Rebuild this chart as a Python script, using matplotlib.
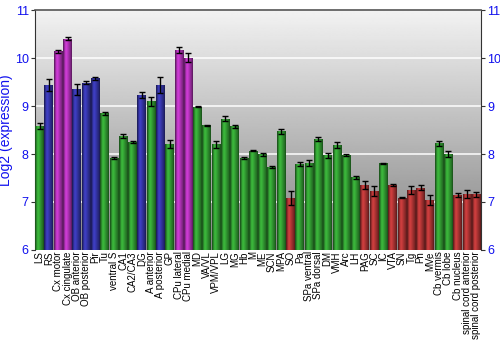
import numpy as np
import matplotlib
matplotlib.use("Agg")
import matplotlib.pyplot as plt
from matplotlib.colors import to_rgb

plt.rcParams['font.family'] = ['Liberation Sans', 'DejaVu Sans']

regions = ["LS", "RS", "Cx motor", "Cx cingulate", "OB anterior", "OB posterior",
           "Pir", "Tu", "ventral S", "CA1", "CA2/CA3", "DG", "A anterior",
           "A posterior", "GP", "CPu lateral", "CPu medial", "MD", "VA/VL",
           "VPM/VPL", "LG", "MG", "Hb", "M", "ME", "SCN", "MPA", "SO", "Pa",
           "SPa ventral", "SPa dorsal", "DM", "VMH", "Arc", "LH", "PAG", "SC",
           "IC", "VTA", "SN", "Tg", "Pn", "MVe", "Cb vermis", "Cb lobe",
           "Cb nucleus", "spinal cord anterior", "spinal cord posterior"]

expr = [8.58, 9.44, 10.14, 10.40, 9.35, 9.49, 9.58, 8.85, 7.91, 8.37, 8.25,
        9.23, 9.10, 9.44, 8.21, 10.17, 10.01, 8.99, 8.60, 8.20, 8.74, 8.58,
        7.91, 8.07, 7.99, 7.73, 8.47, 7.08, 7.80, 7.81, 8.31, 7.97, 8.18,
        7.97, 7.51, 7.35, 7.23, 7.81, 7.35, 7.09, 7.25, 7.30, 7.04, 8.22,
        8.00, 7.14, 7.16, 7.16]

err = [0.06, 0.12, 0.03, 0.03, 0.11, 0.04, 0.03, 0.03, 0.02, 0.04, 0.02,
       0.06, 0.09, 0.16, 0.08, 0.07, 0.10, 0.02, 0.01, 0.08, 0.06, 0.03,
       0.02, 0.01, 0.03, 0.02, 0.06, 0.14, 0.04, 0.06, 0.04, 0.05, 0.06,
       0.02, 0.04, 0.08, 0.10, 0.01, 0.02, 0.01, 0.08, 0.05, 0.10, 0.06,
       0.07, 0.04, 0.08, 0.05]

# g = green, b = blue, m = magenta, r = red
group = list("gbmmbbbggggbgbgmmgggggggggg" "rggggggg" "rrgrrrrr" "gg" "rrr")

palette = {"g": "#34a034", "b": "#3636aa", "m": "#b434ba", "r": "#b43636"}

fig = plt.figure(figsize=(5, 3.5), dpi=100)
ax = fig.add_axes([0.07, 0.286, 0.892, 0.685])

ymin, ymax = 6, 11
n = len(regions)
x = np.arange(n)

# grey vertical gradient background, light at the top
bg = np.linspace(0.95, 0.52, 256).reshape(-1, 1)
ax.imshow(bg, cmap="gray", vmin=0, vmax=1, aspect="auto",
          extent=(-0.5, n - 0.5, ymin, ymax), zorder=0)

for yv in [7, 8, 9, 10]:
    ax.axhline(yv, color="white", lw=1.2, alpha=0.9, zorder=1)

# bars with horizontal shading
shade = np.array([0.55, 0.8, 1.05, 1.15, 1.1, 1.0, 0.9, 0.8, 0.7, 0.55])
for i in range(n):
    base = np.array(to_rgb(palette[group[i]]))
    col = np.clip(base[None, :] * shade[:, None], 0, 1)[None, :, :]
    bars = ax.bar(x[i], expr[i] - ymin, bottom=ymin, width=0.96,
                  color=palette[group[i]], lw=0, zorder=2)
    im = ax.imshow(col, aspect="auto", zorder=3,
                   extent=(x[i] - 0.48, x[i] + 0.48, ymin, expr[i]))
    im.set_clip_path(bars[0])

ax.errorbar(x, expr, yerr=err, fmt="none", ecolor="black", elinewidth=1,
            capsize=2.2, capthick=1, zorder=4)

ax.set_xlim(-0.5, n - 0.5)
ax.set_ylim(ymin, ymax)
ax.set_xticks(x)
ax.set_xticklabels(regions, rotation=90, fontsize=7)
ax.tick_params(axis="x", length=0, pad=1)
ax.set_yticks(range(6, 12))
ax.tick_params(axis="y", colors="#333333", labelcolor="#1010ee", labelsize=9,
               direction="out", length=3, pad=1.5, right=True, labelright=True)
ax.set_ylabel("Log2 (expression)", color="#1010ee", fontsize=10, labelpad=1)

for s in ["left", "right"]:
    ax.spines[s].set_color("#333333")
ax.spines["top"].set_color("#555555")
ax.spines["top"].set_linewidth(1.2)
ax.spines["bottom"].set_visible(False)

fig.savefig("out.png", dpi=100)
